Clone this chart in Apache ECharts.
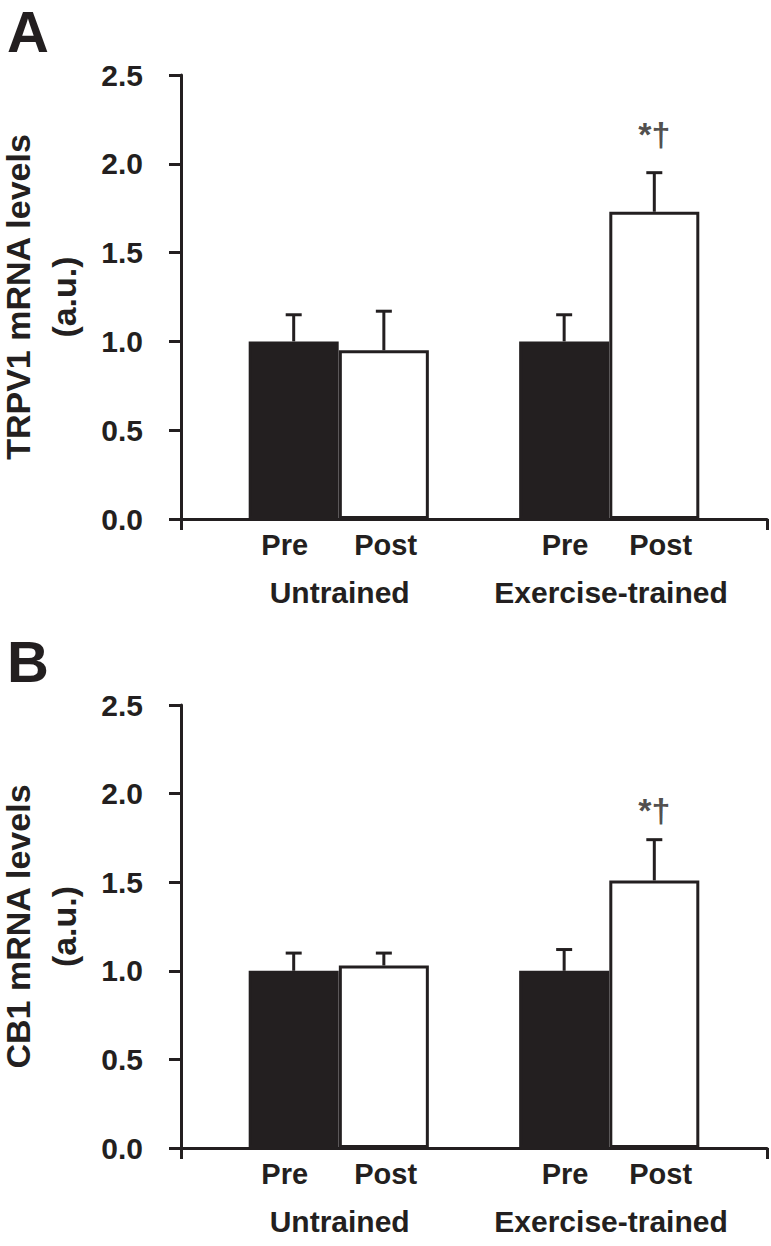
<!DOCTYPE html>
<html>
<head>
<meta charset="utf-8">
<script src="https://cdn.jsdelivr.net/npm/echarts@6/dist/echarts.min.js"></script>
<style>
  html, body { margin: 0; padding: 0; background: #fff; }
  #chart { width: 771px; height: 1246px; }
</style>
</head>
<body>
<div id="chart"></div>
<script>
// bar positions along the (hidden) x scale, 0 .. 6.5
const barX = [1.25, 2.25, 4.25, 5.25]
const conditions = ['Pre', 'Post', 'Pre', 'Post']
const conditionLabelX = [1.15, 2.27, 4.26, 5.32]
const groups = ['Untrained', 'Exercise-trained']
const groupLabelX = [1.76, 4.77]

// panel A: TRPV1
const trpv1Mean = [1.0, 0.95, 1.0, 1.73]
const trpv1Upper = [1.15, 1.17, 1.15, 1.95]
const trpv1SigY = 2.17

// panel B: CB1
const cb1Mean = [1.0, 1.03, 1.0, 1.51]
const cb1Upper = [1.10, 1.10, 1.12, 1.74]
const cb1SigY = 1.91

const sigLabel = '*†'
const sigIndex = 3

const ink = '#231f20'
const font = "'Liberation Sans', Arial, Helvetica, sans-serif"

const chart = echarts.init(document.getElementById('chart'), null, { renderer: 'svg' })

function errorItem(params, api) {
  const x = api.value(0)
  const base = api.coord([x, api.value(1)])
  const top = api.coord([x, api.value(2)])
  return {
    type: 'group',
    children: [
      { type: 'line', shape: { x1: base[0], y1: base[1], x2: top[0], y2: top[1] },
        style: { stroke: ink, lineWidth: 3 } },
      { type: 'line', shape: { x1: top[0] - 8, y1: top[1], x2: top[0] + 8, y2: top[1] },
        style: { stroke: ink, lineWidth: 3 } }
    ]
  }
}

function xAxes(grid) {
  return [
    {
      gridIndex: grid, type: 'value', position: 'bottom', min: 0, max: 6.5, interval: 6.5,
      axisLine: { lineStyle: { color: ink, width: 3 } },
      axisTick: { show: true, length: 11, lineStyle: { color: ink, width: 3 } },
      axisLabel: { show: false },
      splitLine: { show: false }
    },
    {
      gridIndex: grid, type: 'value', position: 'bottom', min: 0, max: 6.5,
      axisLine: { show: false },
      axisTick: { show: false },
      splitLine: { show: false },
      axisLabel: {
        customValues: conditionLabelX,
        formatter: (v) => conditions[conditionLabelX.indexOf(v)],
        margin: 11, fontSize: 29, fontWeight: 'bold', color: ink, fontFamily: font
      }
    },
    {
      gridIndex: grid, type: 'value', position: 'bottom', min: 0, max: 6.5,
      axisLine: { show: false },
      axisTick: { show: false },
      splitLine: { show: false },
      axisLabel: {
        customValues: groupLabelX,
        formatter: (v) => groups[groupLabelX.indexOf(v)],
        margin: 58, fontSize: 30, fontWeight: 'bold', color: ink, fontFamily: font
      }
    }
  ]
}

function yAxis(grid, name) {
  return {
    gridIndex: grid, type: 'value', min: 0, max: 2.5, interval: 0.5,
    axisLine: { show: true, lineStyle: { color: ink, width: 3 } },
    axisTick: { show: true, length: 12, lineStyle: { color: ink, width: 3 } },
    splitLine: { show: false },
    axisLabel: {
      formatter: (v) => v.toFixed(1),
      margin: 38, fontSize: 30, fontWeight: 'bold', color: ink, fontFamily: font
    },
    name: name,
    nameLocation: 'middle',
    nameRotate: 90,
    nameGap: 94,
    nameTextStyle: { fontSize: 34, fontWeight: 'bold', color: ink, fontFamily: font, lineHeight: 46, align: 'center' }
  }
}

function panelSeries(grid, mean, upper, sigY) {
  const xi = grid * 3
  return [
    {
      type: 'bar', xAxisIndex: xi, yAxisIndex: grid, barWidth: 90,
      itemStyle: { borderColor: ink, borderWidth: 3 },
      data: barX.map((x, i) => ({
        value: [x, mean[i]],
        itemStyle: { color: i % 2 ? '#ffffff' : ink }
      }))
    },
    {
      type: 'custom', xAxisIndex: xi, yAxisIndex: grid,
      renderItem: errorItem,
      data: barX.map((x, i) => [x, mean[i], upper[i]])
    },
    {
      type: 'scatter', xAxisIndex: xi, yAxisIndex: grid, symbolSize: 1,
      itemStyle: { color: 'rgba(0,0,0,0)' },
      label: {
        show: true, position: 'inside', formatter: sigLabel,
        fontSize: 34, fontWeight: 'bold', color: ink, fontFamily: font
      },
      data: [[barX[sigIndex], sigY]]
    }
  ]
}

const option = {
  animation: false,
  backgroundColor: '#ffffff',
  title: [
    { text: 'A', left: 7, top: 2, padding: 0,
      textStyle: { fontSize: 58, fontWeight: 'bold', color: ink, fontFamily: font } },
    { text: 'B', left: 7, top: 632, padding: 0,
      textStyle: { fontSize: 58, fontWeight: 'bold', color: ink, fontFamily: font } }
  ],
  grid: [
    { left: 181, top: 75, width: 586, height: 444, outerBoundsMode: 'none' },
    { left: 181, top: 705, width: 586, height: 443, outerBoundsMode: 'none' }
  ],
  xAxis: [...xAxes(0), ...xAxes(1)],
  yAxis: [yAxis(0, 'TRPV1 mRNA levels\n(a.u.)'), yAxis(1, 'CB1 mRNA levels\n(a.u.)')],
  series: [
    ...panelSeries(0, trpv1Mean, trpv1Upper, trpv1SigY),
    ...panelSeries(1, cb1Mean, cb1Upper, cb1SigY)
  ]
}

chart.setOption(option)
</script>
</body>
</html>
